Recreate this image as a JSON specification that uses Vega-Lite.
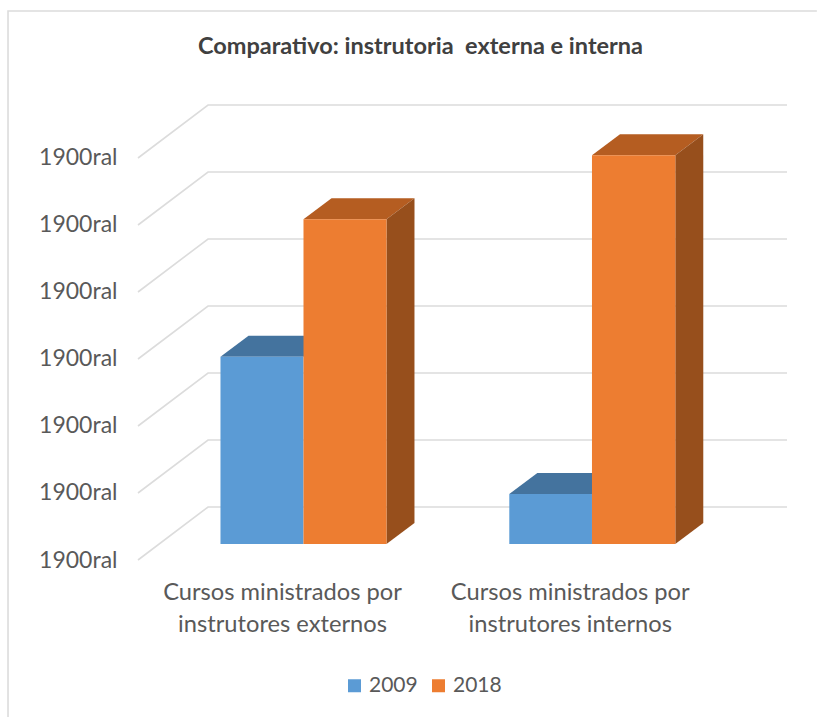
{
"$schema":"https://vega.github.io/schema/vega-lite/v6.json",
"width":649,"height":455,
"autosize":{"type":"none"},
"padding":{"left":138,"top":105,"right":30,"bottom":157},
"background":"white",
"view":{"stroke":null},
"title":{"text":"Comparativo: instrutoria \u00a0externa e interna","anchor":"middle","dx":-42,"offset":-51,"font":"Lato","fontSize":23.5,"fontWeight":"bold","color":"#404040"},
"datasets":{
"lines":[
{"path":"frame","v":0,"x":-20.03,"y":-2.343},{"path":"frame","v":1,"x":-20.03,"y":8.194},{"path":"frame","v":2,"x":104.6,"y":8.194},
{"path":"g0","v":0,"x":0,"y":0},{"path":"g0","v":1,"x":10.79,"y":0.791},{"path":"g0","v":2,"x":100,"y":0.791},
{"path":"g1","v":0,"x":0,"y":1},{"path":"g1","v":1,"x":10.79,"y":1.791},{"path":"g1","v":2,"x":100,"y":1.791},
{"path":"g2","v":0,"x":0,"y":2},{"path":"g2","v":1,"x":10.79,"y":2.791},{"path":"g2","v":2,"x":100,"y":2.791},
{"path":"g3","v":0,"x":0,"y":3},{"path":"g3","v":1,"x":10.79,"y":3.791},{"path":"g3","v":2,"x":100,"y":3.791},
{"path":"g4","v":0,"x":0,"y":4},{"path":"g4","v":1,"x":10.79,"y":4.791},{"path":"g4","v":2,"x":100,"y":4.791},
{"path":"g5","v":0,"x":0,"y":5},{"path":"g5","v":1,"x":10.79,"y":5.791},{"path":"g5","v":2,"x":100,"y":5.791},
{"path":"g6","v":0,"x":0,"y":6},{"path":"g6","v":1,"x":10.79,"y":6.791},{"path":"g6","v":2,"x":100,"y":6.791}
],
"faces":[
{"face":"top-2009-a","shade":"top2009","v":0,"x":12.71,"y":3.034},{"face":"top-2009-a","shade":"top2009","v":1,"x":17.03,"y":3.348},{"face":"top-2009-a","shade":"top2009","v":2,"x":29.82,"y":3.348},{"face":"top-2009-a","shade":"top2009","v":3,"x":25.5,"y":3.034},
{"face":"top-2009-b","shade":"top2009","v":0,"x":57.21,"y":0.985},{"face":"top-2009-b","shade":"top2009","v":1,"x":61.53,"y":1.299},{"face":"top-2009-b","shade":"top2009","v":2,"x":74.27,"y":1.299},{"face":"top-2009-b","shade":"top2009","v":3,"x":69.95,"y":0.985},
{"face":"top-2018-a","shade":"top2018","v":0,"x":25.5,"y":5.085},{"face":"top-2018-a","shade":"top2018","v":1,"x":29.82,"y":5.398},{"face":"top-2018-a","shade":"top2018","v":2,"x":42.6,"y":5.398},{"face":"top-2018-a","shade":"top2018","v":3,"x":38.29,"y":5.085},
{"face":"side-2018-a","shade":"side2018","v":0,"x":38.29,"y":5.085},{"face":"side-2018-a","shade":"side2018","v":1,"x":42.6,"y":5.398},{"face":"side-2018-a","shade":"side2018","v":2,"x":42.6,"y":0.552},{"face":"side-2018-a","shade":"side2018","v":3,"x":38.29,"y":0.239},
{"face":"top-2018-b","shade":"top2018","v":0,"x":69.95,"y":6.04},{"face":"top-2018-b","shade":"top2018","v":1,"x":74.27,"y":6.353},{"face":"top-2018-b","shade":"top2018","v":2,"x":87.1,"y":6.353},{"face":"top-2018-b","shade":"top2018","v":3,"x":82.79,"y":6.04},
{"face":"side-2018-b","shade":"side2018","v":0,"x":82.79,"y":6.04},{"face":"side-2018-b","shade":"side2018","v":1,"x":87.1,"y":6.353},{"face":"side-2018-b","shade":"side2018","v":2,"x":87.1,"y":0.552},{"face":"side-2018-b","shade":"side2018","v":3,"x":82.79,"y":0.239}
],
"bars":[
{"categoria":"Cursos ministrados por instrutores externos","ano":"2009","x0":12.71,"x1":25.5,"base":0.239,"valor":3.034},
{"categoria":"Cursos ministrados por instrutores externos","ano":"2018","x0":25.5,"x1":38.29,"base":0.239,"valor":5.085},
{"categoria":"Cursos ministrados por instrutores internos","ano":"2009","x0":57.21,"x1":69.95,"base":0.239,"valor":0.985},
{"categoria":"Cursos ministrados por instrutores internos","ano":"2018","x0":69.95,"x1":82.79,"base":0.239,"valor":6.04}
],
"cats":[
{"label":"Cursos ministrados por\ninstrutores externos","x":22.27,"y":-0.49},
{"label":"Cursos ministrados por\ninstrutores internos","x":66.6,"y":-0.49}
]
},
"layer":[
{"data":{"name":"lines"},
"mark":{"type":"line","stroke":"#dcdcdc","strokeWidth":1.6,"interpolate":"linear"},
"encoding":{
"x":{"field":"x","type":"quantitative","scale":{"domain":[0,100],"nice":false,"zero":false},"axis":null},
"y":{"field":"y","type":"quantitative","scale":{"domain":[0,6.791],"nice":false,"zero":false},
"axis":{"title":null,"values":[0,1,2,3,4,5,6],"labelExpr":"'1900ral'","domain":false,"ticks":false,"grid":false,"labelPadding":21,"labelFont":"Lato","labelFontSize":23,"labelColor":"#595959","labelOverlap":false,"labelBound":false,"labelFlush":false}},
"detail":{"field":"path"},
"order":{"field":"v","type":"quantitative"}
}},
{"data":{"name":"faces"},
"mark":{"type":"line","strokeWidth":0,"interpolate":"linear"},
"encoding":{
"x":{"field":"x","type":"quantitative"},
"y":{"field":"y","type":"quantitative"},
"fill":{"field":"shade","type":"nominal","scale":{"domain":["top2009","top2018","side2018"],"range":["#44739e","#b55d21","#974f1c"]},"legend":null},
"detail":{"field":"face"},
"order":{"field":"v","type":"quantitative"}
}},
{"data":{"name":"bars"},
"mark":{"type":"rect"},
"encoding":{
"x":{"field":"x0","type":"quantitative"},
"x2":{"field":"x1"},
"y":{"field":"base","type":"quantitative"},
"y2":{"field":"valor"},
"color":{"field":"ano","type":"nominal","scale":{"domain":["2009","2018"],"range":["#5b9bd5","#ed7d31"]},
"legend":{"title":null,"orient":"none","legendX":206,"legendY":570,"direction":"horizontal","columns":2,"symbolType":"square","symbolSize":169,"symbolStrokeWidth":0,"labelFont":"Lato","labelFontSize":21,"labelColor":"#595959","labelOffset":4,"columnPadding":10}}
}},
{"data":{"name":"cats"},
"mark":{"type":"text","font":"Lato","fontSize":23.7,"color":"#595959","lineBreak":"\n","lineHeight":32,"align":"center","baseline":"middle"},
"encoding":{
"x":{"field":"x","type":"quantitative"},
"y":{"field":"y","type":"quantitative"},
"text":{"field":"label","type":"nominal"}
}}
]
}
